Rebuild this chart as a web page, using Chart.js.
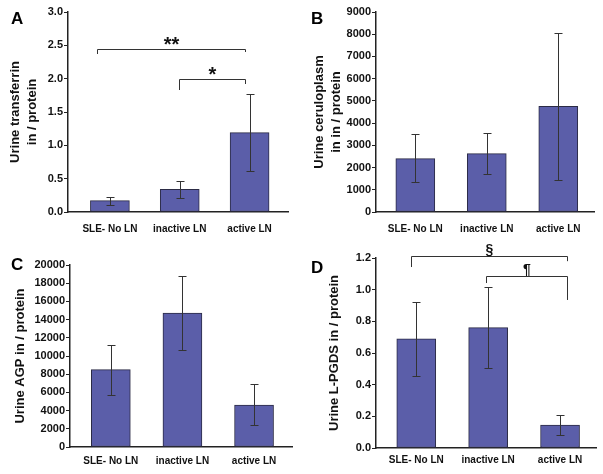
<!DOCTYPE html>
<html>
<head>
<meta charset="utf-8">
<script src="https://cdn.jsdelivr.net/npm/chart.js@4/dist/chart.umd.min.js"></script>
<style>
  html, body { margin: 0; padding: 0; background: #fff; }
  body { width: 603px; height: 474px; position: relative; overflow: hidden; font-family: "Liberation Sans", Arial, sans-serif; }
  .panel { position: absolute; }
  .letter { position: absolute; font: bold 17px "Liberation Sans", Arial, sans-serif; color: #000; line-height: 1; }
</style>
</head>
<body>
<div class="panel" style="left:0;top:0;width:301px;height:237px"><canvas id="cA" width="301" height="237"></canvas></div>
<div class="panel" style="left:301px;top:0;width:302px;height:237px"><canvas id="cB" width="302" height="237"></canvas></div>
<div class="panel" style="left:0;top:237px;width:301px;height:237px"><canvas id="cC" width="301" height="237"></canvas></div>
<div class="panel" style="left:301px;top:237px;width:302px;height:237px"><canvas id="cD" width="302" height="237"></canvas></div>
<div class="letter" style="left:11px;top:10px">A</div>
<div class="letter" style="left:311px;top:10px">B</div>
<div class="letter" style="left:11px;top:256px">C</div>
<div class="letter" style="left:311px;top:259px">D</div>
<script>
// ---------------- data ----------------
const categories = ['SLE- No LN', 'inactive LN', 'active LN'];

const transferrinMean = [0.17, 0.34, 1.19];
const transferrinLow  = [0.10, 0.21, 0.61];
const transferrinHigh = [0.22, 0.46, 1.77];

const ceruloplasmMean = [2400, 2630, 4760];
const ceruloplasmLow  = [1330, 1700, 1450];
const ceruloplasmHigh = [3500, 3570, 8060];

const agpMean = [8510, 14710, 4600];
const agpLow  = [5690, 10680, 2450];
const agpHigh = [11230, 18830, 6900];

const pgdsMean = [0.69, 0.76, 0.145];
const pgdsLow  = [0.455, 0.505, 0.08];
const pgdsHigh = [0.925, 1.015, 0.21];

// significance brackets: [fromCategory, toCategory, level, leftLegEnd, rightLegEnd, label]
const transferrinBrackets = [
  [-0.19, 1.94, 2.45, 2.37, 2.40, '**'],
  [0.99, 1.94, 2.00, 1.83, 1.92, '*']
];
const pgdsBrackets = [
  [-0.07, 2.10, 1.214, 1.143, 1.18, '§'],
  [0.965, 2.10, 1.086, 1.042, 0.935, '¶']
];

// y tick settings
const transferrinTicks = [0, 3, 0.5];
const ceruloplasmTicks = [0, 9000, 1000];
const agpTicks = [0, 20000, 2000];
const pgdsTicks = [0, 1.2, 0.2];

// ---------------- drawing ----------------
const FONT = '"Liberation Sans", Arial, sans-serif';
const BAR = '#5b5ea9';
const INK = '#222';

const annotPlugin = {
  id: 'annot',
  afterDatasetsDraw(chart) {
    const o = chart.options.plugins.annot;
    const xs = chart.scales.x, ys = chart.scales.y;
    const ctx = chart.ctx;
    ctx.save();
    ctx.strokeStyle = '#333';
    ctx.lineWidth = 1;
    // error bars
    o.low.forEach((lo, i) => {
      const x = Math.round(xs.getPixelForValue(i)) + 0.5;
      const y1 = Math.round(ys.getPixelForValue(lo)) + 0.5;
      const y2 = Math.round(ys.getPixelForValue(o.high[i])) + 0.5;
      ctx.beginPath();
      ctx.moveTo(x, y1); ctx.lineTo(x, y2);
      ctx.moveTo(x - 4, y1); ctx.lineTo(x + 4, y1);
      ctx.moveTo(x - 4, y2); ctx.lineTo(x + 4, y2);
      ctx.stroke();
    });
    // brackets
    (o.brackets || []).forEach(b => {
      const xa = Math.round(xs.getPixelForValue(b[0])) + 0.5;
      const xb = Math.round(xs.getPixelForValue(b[1])) + 0.5;
      const yl = Math.round(ys.getPixelForValue(b[2])) + 0.5;
      const ya = ys.getPixelForValue(b[3]);
      const yb = ys.getPixelForValue(b[4]);
      ctx.strokeStyle = '#333';
      ctx.beginPath();
      ctx.moveTo(xa, ya); ctx.lineTo(xa, yl); ctx.lineTo(xb, yl); ctx.lineTo(xb, yb);
      ctx.stroke();
      const isStar = b[5].indexOf('*') >= 0;
      ctx.fillStyle = '#111';
      ctx.textAlign = 'center';
      ctx.textBaseline = 'alphabetic';
      ctx.font = 'bold ' + (isStar ? 20 : 14) + 'px ' + FONT;
      ctx.fillText(b[5], (xa + xb) / 2, yl + (isStar ? 1 : -3));
    });
    ctx.restore();
  }
};

function makeChart(id, mean, low, high, brackets, tickSpec, title, opts) {
  const decimals = tickSpec[2] < 1 ? 1 : 0;
  return new Chart(document.getElementById(id), {
    type: 'bar',
    data: {
      datasets: [{
        data: mean.map((v, i) => ({ x: i, y: v })),
        backgroundColor: BAR,
        borderColor: '#2b2b45',
        borderWidth: 1,
        borderSkipped: false,
        barThickness: 39
      }]
    },
    options: {
      responsive: false,
      animation: false,
      events: [],
      layout: { padding: { left: 0, top: opts.padTop, right: opts.padRight, bottom: 0 } },
      plugins: {
        legend: { display: false },
        tooltip: { enabled: false },
        annot: { low: low, high: high, brackets: brackets }
      },
      scales: {
        x: {
          type: 'linear',
          offset: false,
          min: opts.xMin,
          max: opts.xMax,
          afterBuildTicks: s => { s.ticks = categories.map((c, i) => ({ value: i })); },
          afterFit: s => { s.height = opts.xHeight; },
          grid: { display: false, drawTicks: false },
          border: { display: true, color: INK, width: 1.5 },
          ticks: {
            autoSkip: false, maxRotation: 0, padding: opts.labelPad,
            color: '#111',
            font: { family: FONT, size: 10, weight: 'bold' },
            callback: v => categories[v]
          }
        },
        y: {
          min: tickSpec[0],
          max: tickSpec[1],
          afterFit: s => { s.width = opts.yWidth; },
          afterBuildTicks: s => {
            const t = [];
            for (let v = tickSpec[0]; v <= tickSpec[1] + 1e-9; v += tickSpec[2]) t.push({ value: +v.toFixed(6) });
            s.ticks = t;
          },
          grid: { display: true, drawOnChartArea: false, drawTicks: true, tickLength: 4, color: INK, lineWidth: 1 },
          border: { display: true, color: INK, width: 1.5 },
          ticks: {
            padding: 1,
            color: '#111',
            font: { family: FONT, size: 11, weight: 'bold' },
            callback: v => decimals ? v.toFixed(1) : String(v)
          },
          title: {
            display: true,
            text: title,
            color: '#111',
            font: { family: FONT, size: 13, weight: 'bold', lineHeight: 1.3 },
            padding: { top: opts.titlePad, bottom: 0 }
          }
        }
      }
    },
    plugins: [annotPlugin]
  });
}

makeChart('cA', transferrinMean, transferrinLow, transferrinHigh, transferrinBrackets, transferrinTicks,
  ['Urine transferrin', 'in / protein'],
  { padTop: 12, padRight: 13, xHeight: 25, yWidth: 68, xMin: -0.60, xMax: 2.55, titlePad: 7, labelPad: 11 });

makeChart('cB', ceruloplasmMean, ceruloplasmLow, ceruloplasmHigh, [], ceruloplasmTicks,
  ['Urine ceruloplasm', 'in in / protein'],
  { padTop: 12, padRight: 9, xHeight: 25, yWidth: 75, xMin: -0.55, xMax: 2.50, titlePad: 10, labelPad: 11 });

makeChart('cC', agpMean, agpLow, agpHigh, [], agpTicks,
  'Urine AGP in / protein',
  { padTop: 28, padRight: 9, xHeight: 27, yWidth: 70, xMin: -0.57, xMax: 2.53, titlePad: 12, labelPad: 8 });

makeChart('cD', pgdsMean, pgdsLow, pgdsHigh, pgdsBrackets, pgdsTicks,
  'Urine L-PGDS in / protein',
  { padTop: 21, padRight: 7, xHeight: 26, yWidth: 75, xMin: -0.56, xMax: 2.50, titlePad: 25, labelPad: 6 });
</script>
</body>
</html>
